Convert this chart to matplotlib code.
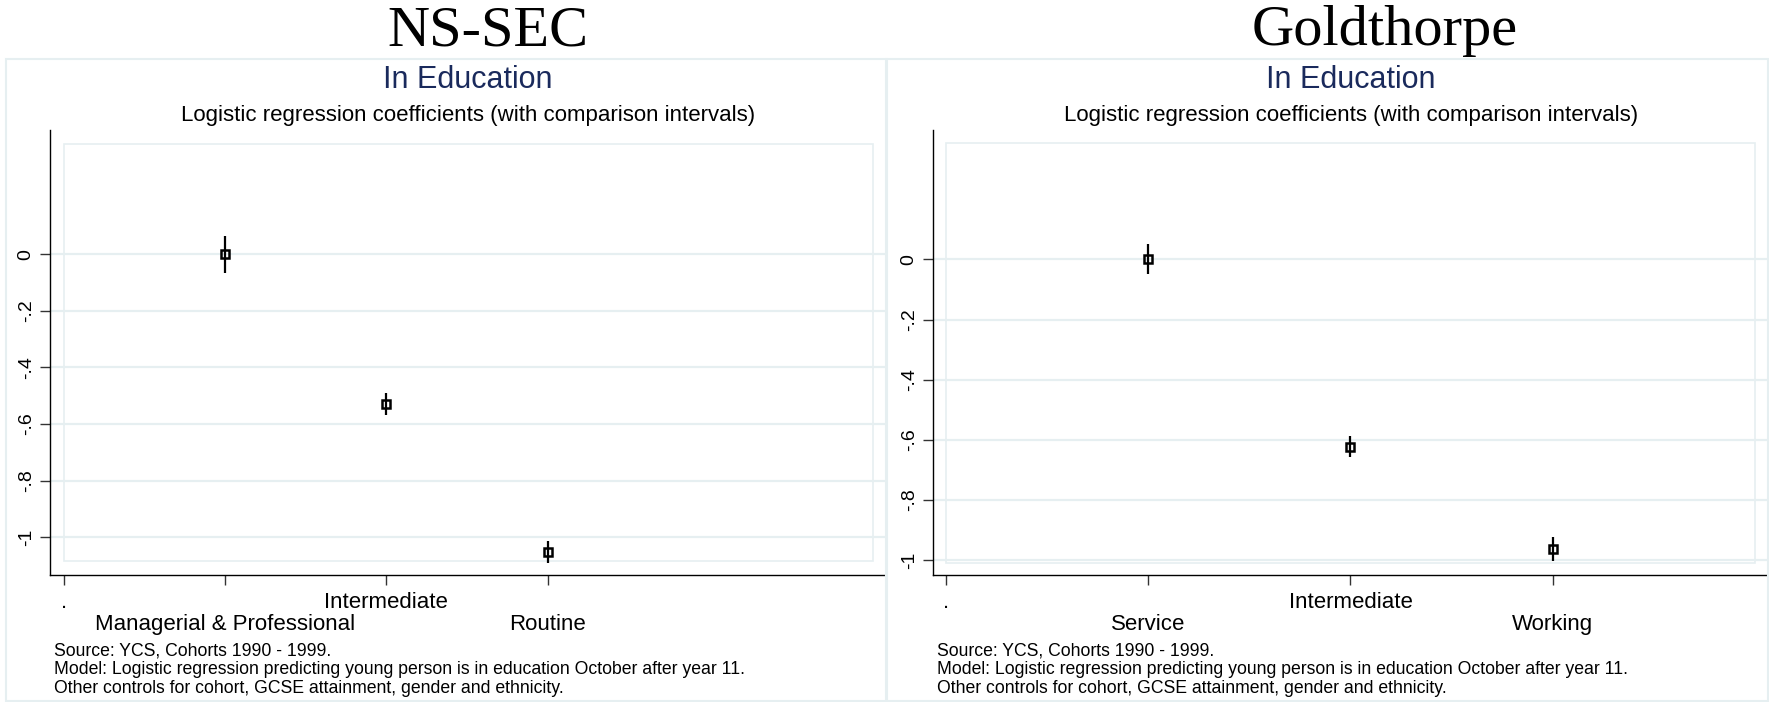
import matplotlib.pyplot as plt
from matplotlib.patches import Rectangle

# ------- data --------#
nssec_labels = ['.', 'Managerial & Professional', 'Intermediate', 'Routine']
nssec_coef = [0.0, -0.53, -1.052]
nssec_ci = [0.066, 0.038, 0.038]

gold_labels = ['.', 'Service', 'Intermediate', 'Working']
gold_coef = [0.0, -0.622, -0.963]
gold_ci = [0.05, 0.034, 0.04]

yticks = [0, -0.2, -0.4, -0.6, -0.8, -1]
ytick_labels = ['0', '-.2', '-.4', '-.6', '-.8', '-1']

notes = ('Source: YCS, Cohorts 1990 - 1999.\n'
         'Model: Logistic regression predicting young person is in education October after year 11.\n'
         'Other controls for cohort, GCSE attainment, gender and ethnicity.')

# ------- layout (pixels) --------#
W, H = 1769, 702
plt.rcParams['font.family'] = ['Liberation Sans', 'DejaVu Sans']
fig = plt.figure(figsize=(W / 100, H / 100), dpi=100)
fig.patch.set_facecolor('white')

grid_col = '#e6eff1'
navy = '#1a2a5c'


def px_rect(x0, y0, x1, y1):
    # convert top-left pixel box to figure fraction
    return [x0 / W, 1 - y1 / H, (x1 - x0) / W, (y1 - y0) / H]


def panel(ax_box, panel_box, labels, coef, ci, xlim, ylim, inner, title, title_x):
    # light border round the whole panel
    x0, y0, x1, y1 = panel_box
    fig.patches.append(Rectangle((x0 / W, 1 - y1 / H), (x1 - x0) / W, (y1 - y0) / H,
                                 transform=fig.transFigure, fill=False,
                                 edgecolor=grid_col, linewidth=1.5))
    ax = fig.add_axes(px_rect(*ax_box))
    ax.set_xlim(*xlim)
    ax.set_ylim(*ylim)
    for s in ['top', 'right']:
        ax.spines[s].set_visible(False)
    for s in ['left', 'bottom']:
        ax.spines[s].set_linewidth(1.0)
        ax.spines[s].set_color('black')

    ax.set_yticks(yticks)
    ax.set_yticklabels(ytick_labels, rotation=90, va='center', fontsize=14)
    ax.yaxis.grid(True, color=grid_col, linewidth=1.6)
    ax.set_axisbelow(True)

    # alternate the category labels on two rows, like Stata does
    xs = list(range(len(labels)))
    ax.set_xticks(xs[0::2])
    ax.set_xticklabels(labels[0::2], fontsize=16)
    ax.set_xticks(xs[1::2], minor=True)
    ax.set_xticklabels(labels[1::2], minor=True, fontsize=16)
    ax.tick_params(axis='x', which='major', length=7, width=1, color='#333333', pad=5)
    ax.tick_params(axis='x', which='minor', length=7, width=1, color='#333333', pad=21)
    ax.tick_params(axis='y', length=7, width=1, color='#333333', pad=4)

    # inner plot-region box
    ax.add_patch(Rectangle((0, inner[0]), inner[2], inner[1] - inner[0], fill=False,
                           edgecolor=grid_col, linewidth=1.2, zorder=0.5))

    ax.errorbar(xs[1:], coef, yerr=ci, fmt='s', mfc='none', mec='black', mew=1.8,
                ms=6, ecolor='black', elinewidth=1.6, capsize=0, zorder=3)

    cx = (ax_box[0] + ax_box[2]) / 2 / W
    fig.text(cx, 1 - 80 / H, 'In Education', ha='center', va='center',
             fontsize=22, color=navy)
    fig.text(cx, 1 - 115 / H, 'Logistic regression coefficients (with comparison intervals)',
             ha='center', va='center', fontsize=16)
    fig.text((ax_box[0] + 4) / W, 1 - 643 / H, notes, ha='left', va='top',
             fontsize=12.7, linespacing=1.1)
    fig.text(title_x / W, 1 - 31 / H, title, ha='center', va='center',
             fontsize=42, family='Liberation Serif')
    return ax


panel((50, 130, 886, 575), (6, 59, 886, 701), nssec_labels, nssec_coef, nssec_ci,
      (-0.087, 5.1), (-1.134, 0.44), (-1.085, 0.39, 5.02), 'NS-SEC', 488)
panel((933, 130, 1769, 575), (887, 59, 1768, 701), gold_labels, gold_coef, gold_ci,
      (-0.065, 4.07), (-1.049, 0.43), (-1.01, 0.386, 4.0), 'Goldthorpe', 1385)

fig.savefig('out.png', dpi=100)
